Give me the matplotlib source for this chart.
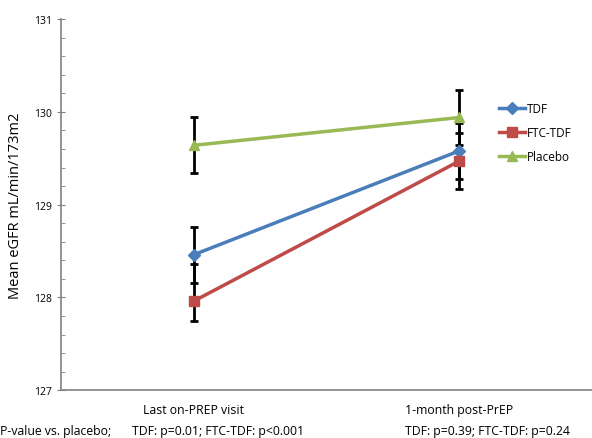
import matplotlib.pyplot as plt
from matplotlib.ticker import MultipleLocator

visits = [0, 1]
visit_labels = ["Last on-PREP visit", "1-month post-PrEP"]
pvalue_labels = ["TDF: p=0.01; FTC-TDF: p<0.001", "TDF: p=0.39; FTC-TDF: p=0.24"]

tdf = [128.46, 129.58]
ftc_tdf = [127.96, 129.47]
placebo = [129.64, 129.94]

tdf_err = [[0.30, 0.30], [0.30, 0.30]]
ftc_err = [[0.21, 0.30], [0.40, 0.30]]
placebo_err = [[0.30, 0.30], [0.30, 0.30]]

plt.rcParams['font.family'] = ['Open Sans', 'DejaVu Sans']

fig = plt.figure(figsize=(5.92, 4.39), dpi=100)
ax = fig.add_axes([0.103, 0.109, 0.897, 0.845])

series = [
    ("TDF", tdf, tdf_err, "#4a7ebb", "D"),
    ("FTC-TDF", ftc_tdf, ftc_err, "#be4b48", "s"),
    ("Placebo", placebo, placebo_err, "#98b954", "^"),
]

for name, vals, err, color, marker in series:
    ax.errorbar(visits, vals, yerr=err, fmt='none', ecolor='black',
                elinewidth=2, capsize=3, capthick=2, zorder=2)
for name, vals, err, color, marker in series:
    ax.plot(visits, vals, color=color, lw=2.5, marker=marker, ms=6.5,
            label=name, zorder=3)

ax.set_xlim(-0.5, 1.5)
ax.set_ylim(127, 131)
ax.yaxis.set_major_locator(MultipleLocator(1))
ax.yaxis.set_minor_locator(MultipleLocator(0.2))
ax.set_xticks(visits)
ax.set_xticklabels(visit_labels, fontsize=8.8)
ax.tick_params(axis='x', length=0, pad=9)
ax.tick_params(axis='y', which='major', direction='inout', length=6,
               labelsize=7.5, color='#808080')
ax.tick_params(axis='y', which='minor', direction='in', length=3,
               color='#808080')
ax.set_ylabel("Mean eGFR mL/min/173m2", fontsize=10.5, labelpad=8)

for side in ['top', 'right']:
    ax.spines[side].set_visible(False)
for side in ['left', 'bottom']:
    ax.spines[side].set_color('#808080')
    ax.spines[side].set_linewidth(1.2)

fig.text(0.0, 0.016, "P-value vs. placebo;", fontsize=8.8, ha='left',
         va='center')
fig.text(0.368, 0.016, pvalue_labels[0], fontsize=8.8, ha='center',
         va='center')
fig.text(0.824, 0.016, pvalue_labels[1], fontsize=8.8, ha='center',
         va='center')

ax.legend(loc='upper left', bbox_to_anchor=(0.825, 0.79),
          bbox_transform=fig.transFigure, frameon=False, fontsize=8.5,
          handlelength=2.2, handletextpad=0.2, labelspacing=0.95)

fig.savefig("out.png", dpi=100)
